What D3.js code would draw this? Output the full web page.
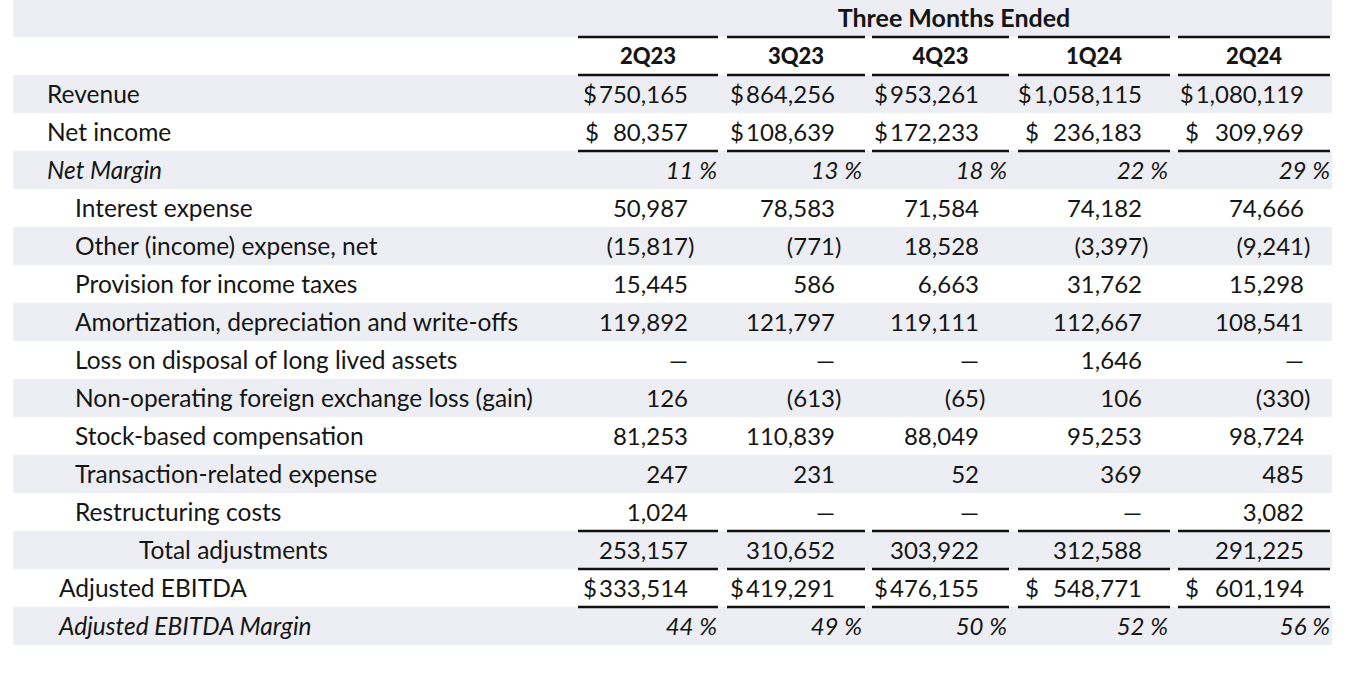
<!DOCTYPE html>
<html>
<head>
<meta charset="utf-8">
<script src="https://cdn.jsdelivr.net/npm/d3@7"></script>
<style>
  html, body { margin: 0; padding: 0; background: #ffffff; }
  svg { display: block; }
  text { font-family: Lato, "Noto Sans", sans-serif; fill: #151515; }
</style>
</head>
<body>
<svg id="chart" width="1367" height="676"></svg>
<script>
// ---------- data ----------
const headerTitle = "Three Months Ended";
const quarters = ["2Q23", "3Q23", "4Q23", "1Q24", "2Q24"];

const rowLabels = [
  "Revenue",
  "Net income",
  "Net Margin",
  "Interest expense",
  "Other (income) expense, net",
  "Provision for income taxes",
  "Amortization, depreciation and write-offs",
  "Loss on disposal of long lived assets",
  "Non-operating foreign exchange loss (gain)",
  "Stock-based compensation",
  "Transaction-related expense",
  "Restructuring costs",
  "Total adjustments",
  "Adjusted EBITDA",
  "Adjusted EBITDA Margin"
];

const revenue        = [750165, 864256, 953261, 1058115, 1080119];
const netIncome      = [80357, 108639, 172233, 236183, 309969];
const netMargin      = [11, 13, 18, 22, 29];
const interestExp    = [50987, 78583, 71584, 74182, 74666];
const otherIncome    = [-15817, -771, 18528, -3397, -9241];
const incomeTaxes    = [15445, 586, 6663, 31762, 15298];
const amortization   = [119892, 121797, 119111, 112667, 108541];
const lossDisposal   = [null, null, null, 1646, null];
const fxLoss         = [126, -613, -65, 106, -330];
const stockComp      = [81253, 110839, 88049, 95253, 98724];
const transactionExp = [247, 231, 52, 369, 485];
const restructuring  = [1024, null, null, null, 3082];
const totalAdj       = [253157, 310652, 303922, 312588, 291225];
const adjEbitda      = [333514, 419291, 476155, 548771, 601194];
const adjMargin      = [44, 49, 50, 52, 56];

// row kinds: "dollar", "pct", "num"
const rowKinds  = ["dollar","dollar","pct","num","num","num","num","num","num","num","num","num","num","dollar","pct"];
const rowStyles = ["top","top","topItalic","sub","sub","sub","sub","sub","sub","sub","sub","sub","total","ebitda","ebitdaItalic"];
const rowValues = [revenue, netIncome, netMargin, interestExp, otherIncome, incomeTaxes, amortization,
                   lossDisposal, fxLoss, stockComp, transactionExp, restructuring, totalAdj, adjEbitda, adjMargin];
// rules drawn under these rows
const rulesBelow = ["Net income", "Restructuring costs", "Total adjustments", "Adjusted EBITDA"];

// ---------- layout ----------
const W = 1367, H = 676;
const tableLeft = 13, tableRight = 1332;
const rowH = 38, top0 = -1;
const segLeft   = [578, 727, 872, 1018, 1178];
const segRight  = [718, 865, 1009, 1170, 1330];
const numRight  = [688, 835, 979, 1142, 1304];
const pctRight  = [717, 862, 1007, 1168, 1330];
const dollarX   = [585, 733, 879, 1025, 1185];
const labelX = { top: 47, topItalic: 47, sub: 75, total: 139, ebitda: 59, ebitdaItalic: 59 };
const labelSize = 24.5, numSize = 24, pctSize = 24, titleSize = 25, quarterSize = 22;
const shade = "#eceef3";

const svg = d3.select("#chart");
svg.append("rect").attr("width", W).attr("height", H).attr("fill", "#fff");

const allRows = ["__header", "__quarters"].concat(rowLabels);
const y = d3.scaleBand().domain(allRows).range([top0, top0 + rowH * allRows.length]).padding(0);
const qi = q => quarters.indexOf(q);

// shaded bands on alternate rows
svg.append("g").selectAll("rect")
  .data(allRows.filter((r, i) => i % 2 === 0))
  .join("rect")
  .attr("x", tableLeft)
  .attr("width", tableRight - tableLeft)
  .attr("y", d => y(d))
  .attr("height", y.bandwidth())
  .attr("fill", shade);

// header title
svg.append("text")
  .attr("x", (segLeft[0] + segRight[segRight.length - 1]) / 2)
  .attr("y", y("__header") + y.bandwidth() / 2)
  .attr("dy", "0.36em")
  .attr("text-anchor", "middle")
  .attr("font-size", titleSize)
  .attr("font-weight", 700)
  .text(headerTitle);

// quarter labels
svg.append("g").selectAll("text")
  .data(quarters)
  .join("text")
  .attr("x", q => (segLeft[qi(q)] + segRight[qi(q)]) / 2)
  .attr("y", y("__quarters") + y.bandwidth() / 2)
  .attr("dy", "0.37em")
  .attr("text-anchor", "middle")
  .attr("font-size", quarterSize)
  .attr("font-weight", 900)
  .text(q => q);

// rules
const ruleYs = [y("__quarters"), y("__quarters") + rowH].concat(rulesBelow.map(r => y(r) + rowH));
const rules = svg.append("g");
ruleYs.forEach(ry => {
  rules.selectAll(null)
    .data(quarters)
    .join("line")
    .attr("x1", q => segLeft[qi(q)])
    .attr("x2", q => segRight[qi(q)])
    .attr("y1", ry)
    .attr("y2", ry)
    .attr("stroke", "#111")
    .attr("stroke-width", 2.6);
});

// row labels
svg.append("g").selectAll("text")
  .data(rowLabels)
  .join("text")
  .attr("x", (d, i) => labelX[rowStyles[i]])
  .attr("y", d => y(d) + y.bandwidth() / 2)
  .attr("dy", "0.36em")
  .attr("font-size", labelSize)
  .attr("font-style", (d, i) => rowStyles[i].endsWith("Italic") ? "italic" : "normal")
  .text(d => d);

// values
const fmt = d3.format(",");
const cells = svg.append("g");
rowLabels.forEach((label, ri) => {
  const kind = rowKinds[ri];
  const cy = y(label) + y.bandwidth() / 2;
  quarters.forEach((q, ci) => {
    const v = rowValues[ri][ci];
    const g = cells.append("g").attr("transform", `translate(0,${cy})`);
    if (kind === "pct") {
      g.append("text").attr("x", pctRight[ci]).attr("dy", "0.36em")
        .attr("text-anchor", "end").attr("font-size", pctSize).attr("font-style", "italic")
        .text(v + " %");
      return;
    }
    let numText;
    if (v === null) {
      numText = g.append("text").attr("x", numRight[ci]).attr("dy", "0.36em")
        .attr("text-anchor", "end").attr("font-size", numSize).text("\u2014");
    } else if (v < 0) {
      numText = g.append("text").attr("x", numRight[ci]).attr("dy", "0.36em")
        .attr("text-anchor", "end").attr("font-size", numSize).text("(" + fmt(-v));
      g.append("text").attr("x", numRight[ci]).attr("dy", "0.36em")
        .attr("font-size", numSize).text(")");
    } else {
      numText = g.append("text").attr("x", numRight[ci]).attr("dy", "0.36em")
        .attr("text-anchor", "end").attr("font-size", numSize).text(fmt(v));
    }
    if (kind === "dollar") {
      const dollar = g.append("text").attr("dy", "0.36em")
        .attr("font-size", numSize).text("$");
      const dw = dollar.node().getComputedTextLength();
      const numLeft = numRight[ci] - numText.node().getComputedTextLength();
      dollar.attr("x", Math.min(dollarX[ci], numLeft - dw - 2));
    }
  });
});
</script>
</body>
</html>
